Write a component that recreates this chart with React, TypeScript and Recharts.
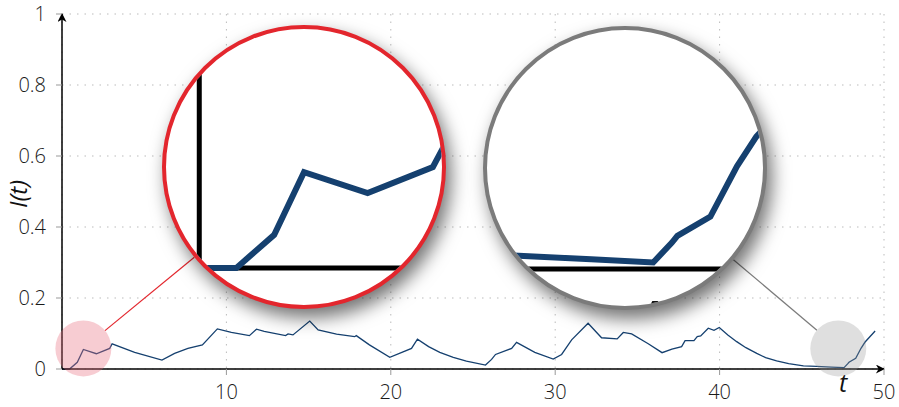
import React from "react";
import { LineChart, Line, XAxis, YAxis, CartesianGrid, ReferenceLine, ReferenceDot, Label } from "recharts";

// time points and I(t)
const T_VALUES = [
  0, 0.46, 0.93, 1.3, 2.09, 2.9, 3.05, 4.42, 6.08, 6.85, 7.66, 8.54, 9.45, 10.3, 11.4, 11.83,
  12.3, 13.6, 13.75, 14.05, 15.07, 15.58, 16.7, 17.8, 17.9, 18.7, 19.94, 21.26, 21.62, 22.3,
  22.98, 23.8, 24.6, 25.76, 26.13, 26.37, 27.35, 27.65, 28.76, 29.88, 30.39, 31.0, 32.0, 32.82,
  33.77, 34.14, 34.65, 35.66, 36.5, 37.1, 37.69, 37.9, 38.44, 38.64, 38.85, 39.31, 39.66, 39.98,
  40.5, 41.04, 41.6, 42.26, 42.8, 43.47, 44.2, 45.1, 45.9, 46.8, 47.57, 47.8, 47.87, 48.28,
  48.61, 48.85, 49.46,
];
const I_VALUES = [
  0, 0, 0.019, 0.055, 0.043, 0.058, 0.071, 0.047, 0.025, 0.044, 0.058, 0.068, 0.113, 0.103, 0.094, 0.112,
  0.106, 0.094, 0.099, 0.096, 0.135, 0.11, 0.098, 0.091, 0.094, 0.068, 0.033, 0.058, 0.084, 0.063,
  0.047, 0.033, 0.022, 0.011, 0.027, 0.041, 0.058, 0.075, 0.047, 0.028, 0.041, 0.082, 0.129, 0.088,
  0.085, 0.103, 0.099, 0.071, 0.046, 0.056, 0.063, 0.08, 0.08, 0.091, 0.093, 0.115, 0.109, 0.117,
  0.096, 0.077, 0.06, 0.044, 0.032, 0.023, 0.015, 0.009, 0.0076, 0.0055, 0.0037, 0.015, 0.019, 0.03,
  0.059, 0.076, 0.107,
];
const X_TICKS = [10, 20, 30, 40, 50];
const Y_TICKS = [0, 0.2, 0.4, 0.6, 0.8, 1];

// zoomed spots: data centre and where the big lens sits on the page
const LENS_T = [1.3, 47.22];
const LENS_V = [0.058, 0.058];
const LENS_CX = [304, 625];
const LENS_CY = [167, 168];
const LENS_COLORS = ["#e3262d", "#7b7b7b"];
const SPOT_FILLS = ["rgba(232,110,125,0.35)", "rgba(150,150,150,0.3)"];

const data = T_VALUES.map((t, i) => ({ t, i: I_VALUES[i] }));

const W = 899;
const H = 407;
const LEFT = 62;
const RIGHT = 884;
const TOP = 14;
const BOTTOM = 369;
const PX_T = (RIGHT - LEFT) / 50;
const PX_V = BOTTOM - TOP;
const ZOOM = 4.9;
const OUTER_R = 142;
const BORDER = 4;
const INNER_R = OUTER_R - BORDER;
const SPOT_R = 28;
const LINE_COLOR = "#15406f";
const FONT = "'Open Sans', sans-serif";
const T_LABEL_X = 843;
const T_LABEL_Y = 392;

const pageX = (t: number) => LEFT + t * PX_T;
const pageY = (v: number) => BOTTOM - v * PX_V;

function Lens({ idx }: { idx: number }) {
  const t = LENS_T[idx];
  const v = LENS_V[idx];
  const halfT = INNER_R / (PX_T * ZOOM);
  const halfV = INNER_R / (PX_V * ZOOM);
  const size = INNER_R * 2;
  // magnified "t" axis label (only its tip shows in the right lens)
  const tx = INNER_R + (T_LABEL_X - pageX(t)) * ZOOM;
  const ty = INNER_R + (T_LABEL_Y - pageY(v)) * ZOOM;
  const showT = tx > 0 && tx < size;
  return (
    <div
      style={{
        position: "absolute",
        left: LENS_CX[idx] - OUTER_R,
        top: LENS_CY[idx] - OUTER_R,
        width: OUTER_R * 2,
        height: OUTER_R * 2,
        boxSizing: "border-box",
        border: `${BORDER}px solid ${LENS_COLORS[idx]}`,
        borderRadius: "50%",
        overflow: "hidden",
        background: "#fff",
        boxShadow: "5px 9px 18px rgba(0,0,0,0.55)",
      }}
    >
      <LineChart width={size} height={size} data={data} margin={{ top: 0, right: 0, bottom: 0, left: 0 }}>
        <XAxis type="number" dataKey="t" domain={[t - halfT, t + halfT]} allowDataOverflow hide />
        <YAxis type="number" domain={[v - halfV, v + halfV]} allowDataOverflow hide />
        <ReferenceLine segment={[{ x: 0, y: 0 }, { x: 50, y: 0 }]} stroke="#000" strokeWidth={5} ifOverflow="visible" />
        <ReferenceLine segment={[{ x: 0, y: 0 }, { x: 0, y: 1 }]} stroke="#000" strokeWidth={5} ifOverflow="visible" />
        <Line type="linear" dataKey="i" stroke={LINE_COLOR} strokeWidth={6} dot={false} isAnimationActive={false} />
      </LineChart>
      {showT && (
        <svg width={size} height={size} style={{ position: "absolute", left: 0, top: 0 }}>
          <text x={tx} y={ty} fontSize={25 * ZOOM} fontStyle="italic" fontFamily={FONT} textAnchor="middle" fill="#111">
            t
          </text>
        </svg>
      )}
    </div>
  );
}

export default function App() {
  return (
    <div style={{ position: "absolute", left: 0, top: 0, width: W, height: H, background: "#fff" }}>
      <svg width={0} height={0} style={{ position: "absolute" }}>
        <defs>
          <marker id="arrowHead" viewBox="0 0 10 10" refX="9" refY="5" markerWidth="10" markerHeight="9"
            markerUnits="userSpaceOnUse" orient="auto-start-reverse">
            <path d="M0,0 L10,5 L0,10 L3,5 z" fill="#000" />
          </marker>
        </defs>
      </svg>
      <LineChart width={W} height={H} data={data} margin={{ top: TOP, right: W - RIGHT, bottom: 0, left: 0 }}>
        <CartesianGrid stroke="#bbb" strokeDasharray="1.5 6" />
        <XAxis
          type="number"
          dataKey="t"
          domain={[0, 50]}
          ticks={X_TICKS}
          height={H - BOTTOM}
          tickSize={6}
          tickMargin={10}
          axisLine={{ stroke: "#000", strokeWidth: 1.5, markerEnd: "url(#arrowHead)" }}
          tickLine={{ stroke: "#999" }}
          tick={{ fill: "#1a1a1a", fontSize: 20, fontFamily: FONT, fontWeight: 300 }}
        >
          <Label
            content={() => (
              <text x={T_LABEL_X} y={T_LABEL_Y} fontSize={25} fontStyle="italic" fontFamily={FONT} textAnchor="middle" fill="#111">
                t
              </text>
            )}
          />
        </XAxis>
        <YAxis
          type="number"
          domain={[0, 1]}
          ticks={Y_TICKS}
          width={LEFT}
          tickSize={6}
          tickMargin={10}
          axisLine={{ stroke: "#000", strokeWidth: 1.5, markerStart: "url(#arrowHead)" }}
          tickLine={{ stroke: "#999" }}
          tick={{ fill: "#1a1a1a", fontSize: 20, fontFamily: FONT, fontWeight: 300 }}
        >
          <Label
            content={() => (
              <text x={17} y={194} fontSize={24} fontStyle="italic" fontFamily={FONT} textAnchor="middle"
                dominantBaseline="central" transform="rotate(-90 17 194)" fill="#111">
                I(t)
              </text>
            )}
          />
        </YAxis>
        {LENS_T.map((t, k) => (
          <ReferenceDot key={k} x={t} y={LENS_V[k]} r={SPOT_R} fill={SPOT_FILLS[k]} stroke="none" />
        ))}
        <Line type="linear" dataKey="i" stroke={LINE_COLOR} strokeWidth={1.3} dot={false} isAnimationActive={false} />
      </LineChart>
      <svg width={W} height={H} style={{ position: "absolute", left: 0, top: 0, pointerEvents: "none" }}>
        {LENS_T.map((t, k) => {
          const sx = pageX(t);
          const sy = pageY(LENS_V[k]);
          const dx = LENS_CX[k] - sx;
          const dy = LENS_CY[k] - sy;
          const len = Math.hypot(dx, dy);
          const ux = dx / len;
          const uy = dy / len;
          return (
            <line key={k} x1={sx + ux * SPOT_R} y1={sy + uy * SPOT_R}
              x2={LENS_CX[k] - ux * OUTER_R} y2={LENS_CY[k] - uy * OUTER_R}
              stroke={LENS_COLORS[k]} strokeWidth={1.2} />
          );
        })}
      </svg>
      {LENS_T.map((_, k) => (
        <Lens key={k} idx={k} />
      ))}
    </div>
  );
}
